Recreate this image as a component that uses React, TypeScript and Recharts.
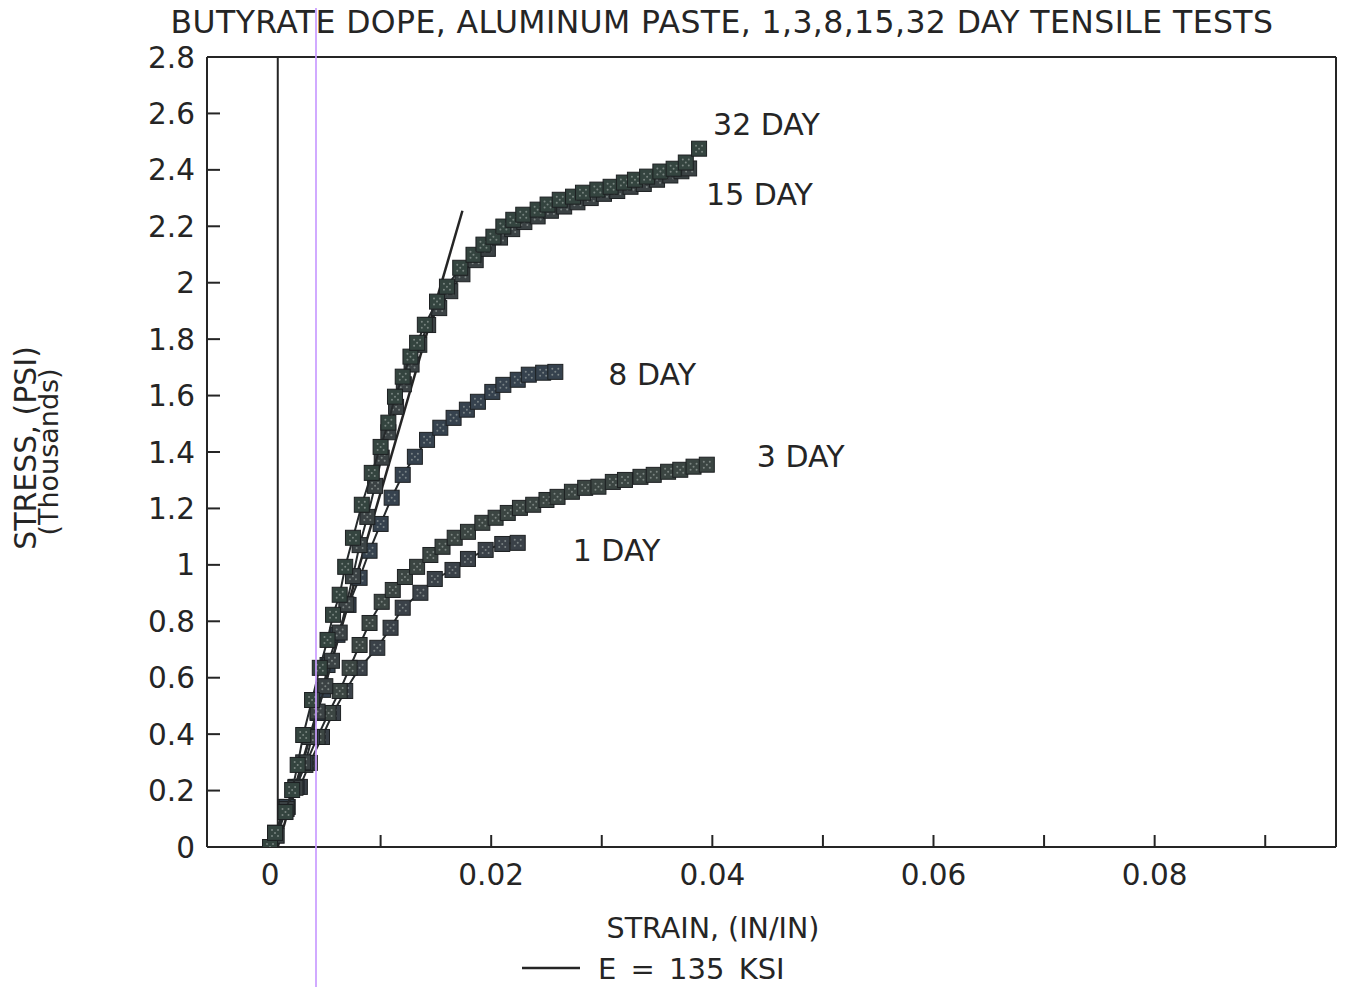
import React from 'react';
import { ScatterChart, Scatter, XAxis, YAxis, ReferenceLine, ReferenceDot } from 'recharts';

const FONT = '"DejaVu Sans", "Liberation Sans", Arial, sans-serif';
const INK = '#252525';

// ---- data (strain in/in, stress in thousands psi) ----
const DAY1_STRAIN = [0, 0.00045, 0.0016, 0.0027, 0.0036, 0.0047, 0.0057, 0.0068, 0.0081, 0.0097, 0.0109, 0.012, 0.0136, 0.0149, 0.0165, 0.0179, 0.0195, 0.021, 0.0224];
const DAY1_STRESS = [0, 0.05, 0.142, 0.213, 0.298, 0.39, 0.475, 0.553, 0.635, 0.706, 0.777, 0.848, 0.901, 0.95, 0.982, 1.021, 1.053, 1.074, 1.078];

const DAY3_STRAIN = [0, 0.00045, 0.0014, 0.0023, 0.0032, 0.0043, 0.0053, 0.0063, 0.0072, 0.0081, 0.009, 0.0101, 0.0111, 0.0122, 0.0133, 0.0145, 0.0156, 0.0167, 0.0179, 0.0192, 0.0204, 0.0215, 0.0226, 0.0238, 0.025, 0.026, 0.0273, 0.0285, 0.0297, 0.031, 0.0321, 0.0335, 0.0347, 0.036, 0.0371, 0.0383, 0.0395];
const DAY3_STRESS = [0, 0.05, 0.142, 0.213, 0.291, 0.39, 0.475, 0.553, 0.635, 0.716, 0.794, 0.869, 0.911, 0.957, 0.993, 1.035, 1.064, 1.096, 1.117, 1.149, 1.167, 1.184, 1.202, 1.213, 1.23, 1.241, 1.259, 1.273, 1.277, 1.294, 1.301, 1.312, 1.319, 1.33, 1.337, 1.348, 1.355];

const DAY8_STRAIN = [0, 0.00045, 0.0015, 0.0024, 0.0032, 0.0038, 0.0043, 0.0048, 0.0052, 0.0061, 0.0071, 0.0081, 0.009, 0.01, 0.011, 0.012, 0.0131, 0.0142, 0.0154, 0.0166, 0.0178, 0.0188, 0.0201, 0.0211, 0.0224, 0.0234, 0.0247, 0.0258];
const DAY8_STRESS = [0, 0.05, 0.142, 0.213, 0.298, 0.39, 0.475, 0.557, 0.645, 0.752, 0.858, 0.954, 1.05, 1.145, 1.238, 1.319, 1.383, 1.443, 1.486, 1.521, 1.55, 1.578, 1.613, 1.638, 1.656, 1.674, 1.681, 1.684];

const DAY15_STRAIN = [0, 0.0006, 0.0015, 0.0023, 0.003, 0.0036, 0.0043, 0.005, 0.0056, 0.0063, 0.0069, 0.0075, 0.0081, 0.0088, 0.0095, 0.0101, 0.0107, 0.0114, 0.0121, 0.0128, 0.0135, 0.0143, 0.0153, 0.0163, 0.0174, 0.0186, 0.0197, 0.0208, 0.0219, 0.023, 0.0242, 0.0254, 0.0266, 0.0278, 0.029, 0.0302, 0.0314, 0.0326, 0.0338, 0.035, 0.0362, 0.0372, 0.0379];
const DAY15_STRESS = [0, 0.04, 0.135, 0.21, 0.3, 0.39, 0.48, 0.57, 0.66, 0.76, 0.86, 0.96, 1.07, 1.17, 1.28, 1.38, 1.47, 1.56, 1.64, 1.71, 1.78, 1.85, 1.91, 1.97, 2.03, 2.08, 2.12, 2.16, 2.19, 2.215, 2.235, 2.255, 2.27, 2.285, 2.3, 2.315, 2.325, 2.34, 2.35, 2.365, 2.38, 2.395, 2.405];

const DAY32_STRAIN = [0, 0.00045, 0.0014, 0.002, 0.0025, 0.003, 0.0038, 0.0045, 0.0052, 0.0057, 0.0063, 0.0068, 0.0075, 0.0083, 0.0092, 0.01, 0.0107, 0.0113, 0.012, 0.0127, 0.0133, 0.014, 0.0151, 0.016, 0.0172, 0.0184, 0.0193, 0.0202, 0.0211, 0.022, 0.0229, 0.0242, 0.0251, 0.0262, 0.0274, 0.0283, 0.0296, 0.0308, 0.032, 0.033, 0.0341, 0.0353, 0.0365, 0.0376, 0.0388];
const DAY32_STRESS = [0, 0.05, 0.124, 0.202, 0.291, 0.397, 0.521, 0.635, 0.734, 0.823, 0.894, 0.993, 1.096, 1.213, 1.326, 1.418, 1.504, 1.596, 1.667, 1.738, 1.787, 1.851, 1.933, 1.986, 2.053, 2.099, 2.135, 2.163, 2.199, 2.223, 2.241, 2.259, 2.277, 2.294, 2.305, 2.319, 2.33, 2.34, 2.355, 2.365, 2.376, 2.394, 2.404, 2.426, 2.475];

// modulus line E = 135 KSI
const E_LINE_STRAIN = [0.0007, 0.0174];
const E_LINE_STRESS = [0, 2.255];
const ORIGIN_LINE_STRAIN = 0.0007;

const X_TICKS = [0, 0.01, 0.02, 0.03, 0.04, 0.05, 0.06, 0.07, 0.08, 0.09];
const X_LABELED = [0, 0.02, 0.04, 0.06, 0.08];
const Y_TICKS = [0, 0.2, 0.4, 0.6, 0.8, 1, 1.2, 1.4, 1.6, 1.8, 2, 2.2, 2.4, 2.6, 2.8];
const X_DOMAIN = [-0.0057, 0.0964];
const Y_DOMAIN = [0, 2.8];

const zip = (xs: number[], ys: number[]) => xs.map((x, i) => ({ x, y: ys[i] }));

const SERIES = [
  { name: '1 DAY', data: zip(DAY1_STRAIN, DAY1_STRESS), fill: '#3a4148', dx: 55, dy: 7 },
  { name: '3 DAY', data: zip(DAY3_STRAIN, DAY3_STRESS), fill: '#3b4542', dx: 50, dy: -9 },
  { name: '8 DAY', data: zip(DAY8_STRAIN, DAY8_STRESS), fill: '#36424e', dx: 53, dy: 2 },
  { name: '15 DAY', data: zip(DAY15_STRAIN, DAY15_STRESS), fill: '#3b4244', dx: 17, dy: 26 },
  { name: '32 DAY', data: zip(DAY32_STRAIN, DAY32_STRESS), fill: '#34443f', dx: 14, dy: -25 },
];

const makeMarker = (fill: string) => (props: any) => {
  const { cx, cy } = props;
  if (cx == null || cy == null) return null;
  const s = 15;
  return (
    <g>
      <rect x={cx - s / 2} y={cy - s / 2} width={s} height={s} fill={fill} stroke="#1d2022" strokeWidth={1} />
      <circle cx={cx - 3} cy={cy - 3} r={1} fill="#a9b0ae" opacity={0.6} />
      <circle cx={cx + 3} cy={cy - 3} r={1} fill="#a9b0ae" opacity={0.6} />
      <circle cx={cx} cy={cy} r={1} fill="#a9b0ae" opacity={0.6} />
      <circle cx={cx - 3} cy={cy + 3} r={1} fill="#a9b0ae" opacity={0.6} />
      <circle cx={cx + 3} cy={cy + 3} r={1} fill="#a9b0ae" opacity={0.6} />
    </g>
  );
};

const YTick = (p: any) => {
  const v = p.payload.value;
  const edge = v === 0 || v === 2.8;
  return (
    <g>
      {!edge && <line x1={p.x} x2={p.x + 13} y1={p.y} y2={p.y} stroke={INK} strokeWidth={2} />}
      <text x={p.x - 12} y={p.y + 10.5} textAnchor="end" fontSize={29.5} fill={INK} fontFamily={FONT}>
        {String(v)}
      </text>
    </g>
  );
};

const XTick = (p: any) => {
  const v = p.payload.value;
  const labeled = X_LABELED.some((t) => Math.abs(t - v) < 1e-9);
  return (
    <g>
      {v !== 0 && <line x1={p.x} x2={p.x} y1={p.y} y2={p.y - 12} stroke={INK} strokeWidth={2} />}
      {labeled && (
        <text x={p.x} y={p.y + 38} textAnchor="middle" fontSize={29.5} fill={INK} fontFamily={FONT}>
          {String(v)}
        </text>
      )}
    </g>
  );
};

const seriesLabel = (text: string, dx: number, dy: number) => (p: any) => {
  const vb = p.viewBox || {};
  const cx = (vb.x ?? 0) + (vb.width ?? 0) / 2;
  const cy = (vb.y ?? 0) + (vb.height ?? 0) / 2;
  return (
    <text x={cx + dx} y={cy + dy + 11} fontSize={30} fill={INK} fontFamily={FONT}>
      {text}
    </text>
  );
};

export default function App() {
  const W = 1329;
  const H = 979;
  return (
    <div
      style={{
        position: 'relative',
        width: W,
        height: H,
        fontFamily: FONT,
        background: '#fff',
      }}
    >
      <ScatterChart width={W} height={H} margin={{ top: 48, right: 1, bottom: 110, left: 139 }}>
        <XAxis
          type="number"
          dataKey="x"
          domain={X_DOMAIN}
          allowDataOverflow
          ticks={X_TICKS}
          interval={0}
          height={30}
          tickSize={0}
          tickMargin={0}
          tickLine={false}
          tick={<XTick />}
          axisLine={{ stroke: INK, strokeWidth: 2 }}
        />
        <XAxis
          xAxisId="top"
          orientation="top"
          type="number"
          domain={X_DOMAIN}
          allowDataOverflow
          height={1}
          tick={false}
          tickLine={false}
          axisLine={{ stroke: INK, strokeWidth: 2 }}
        />
        <YAxis
          type="number"
          dataKey="y"
          domain={Y_DOMAIN}
          allowDataOverflow
          ticks={Y_TICKS}
          interval={0}
          width={60}
          tickSize={0}
          tickMargin={0}
          tickLine={false}
          tick={<YTick />}
          axisLine={{ stroke: INK, strokeWidth: 2 }}
        />
        <ReferenceLine x={X_DOMAIN[1]} stroke={INK} strokeWidth={2} ifOverflow="visible" />
        <ReferenceLine x={ORIGIN_LINE_STRAIN} stroke={INK} strokeWidth={2} />
        {SERIES.map((s) => (
          <Scatter
            key={s.name}
            name={s.name}
            data={s.data}
            isAnimationActive={false}
            fill={s.fill}
            line={{ stroke: '#262a2c', strokeWidth: 2 }}
            lineType="joint"
            shape={makeMarker(s.fill)}
          />
        ))}
        <ReferenceLine
          segment={[
            { x: E_LINE_STRAIN[0], y: E_LINE_STRESS[0] },
            { x: E_LINE_STRAIN[1], y: E_LINE_STRESS[1] },
          ]}
          stroke={INK}
          strokeWidth={2.5}
        />
        {SERIES.map((s) => {
          const last = s.data[s.data.length - 1];
          return (
            <ReferenceDot
              key={'lbl' + s.name}
              x={last.x}
              y={last.y}
              r={0}
              fill="none"
              stroke="none"
              label={seriesLabel(s.name, s.dx, s.dy)}
            />
          );
        })}
      </ScatterChart>
      <svg
        width={W}
        height={H}
        viewBox={`8 8 ${W} ${H}`}
        style={{ position: 'absolute', left: 0, top: 0, pointerEvents: 'none', overflow: 'visible' }}
      >
        <text x={722} y={33} textAnchor="middle" fontSize={31.5} letterSpacing={0.4} fill={INK} fontFamily={FONT}>
          BUTYRATE DOPE, ALUMINUM PASTE, 1,3,8,15,32 DAY TENSILE TESTS
        </text>
        <text x={713} y={937.5} textAnchor="middle" fontSize={28.5} fill={INK} fontFamily={FONT}>
          STRAIN, (IN/IN)
        </text>
        <text transform="translate(36,448) rotate(-90)" textAnchor="middle" fontSize={30} fill={INK} fontFamily={FONT}>
          STRESS, (PSI)
        </text>
        <text transform="translate(58,452) rotate(-90)" textAnchor="middle" fontSize={27} fill={INK} fontFamily={FONT}>
          (Thousands)
        </text>
        <line x1={522} x2={580} y1={968} y2={968} stroke={INK} strokeWidth={2.5} />
        <text x={598} y={978.5} fontSize={29} fill={INK} fontFamily={FONT} style={{ whiteSpace: 'pre' }} wordSpacing={5}>
          E = 135 KSI
        </text>
        <line x1={316} x2={316} y1={0} y2={987} stroke="#c99cff" strokeWidth={2} opacity={0.85} />
      </svg>
    </div>
  );
}
